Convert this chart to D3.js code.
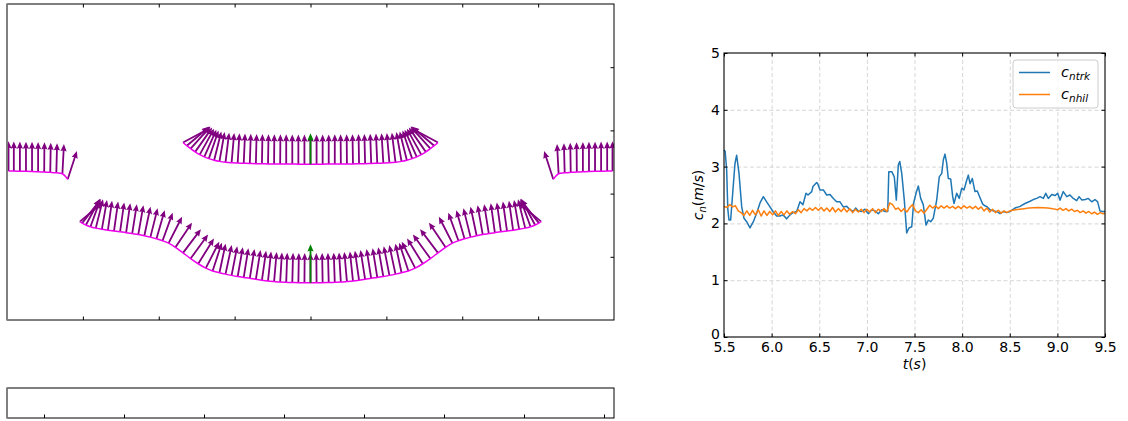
<!DOCTYPE html>
<html>
<head>
<meta charset="utf-8">
<script src="https://cdn.jsdelivr.net/npm/d3@7"></script>
<style>
  body { margin: 0; background: #fff; }
  svg text { font-family: "DejaVu Sans", sans-serif; }
  .tick line { stroke: #000; }
  .grid .tick line { stroke: #cccccc; stroke-dasharray: 4,2.5; stroke-width: 0.8; }
</style>
</head>
<body>
<div id="chart"></div>
<script>
/* CONSTANTS AND GLOBALS */
const width = 1128, height = 421;

/* DATA */
// interface snapshot (left panel), tails of the normal-velocity arrows
const upperX = [2.32, 2.37, 2.42, 2.48, 2.54, 2.60, 2.66, 2.73, 2.80, 2.88, 2.96, 3.04, 3.12, 3.20, 3.28, 3.36, 3.44, 3.52, 3.60, 3.68, 3.76, 3.84, 3.92, 4.00,
  4.08, 4.16, 4.24, 4.32, 4.40, 4.48, 4.56, 4.64, 4.72, 4.80, 4.88, 4.96, 5.04, 5.12, 5.20, 5.27, 5.34, 5.40, 5.46, 5.52, 5.58, 5.63, 5.68];
const upperY = [2.809, 2.758, 2.712, 2.660, 2.617, 2.582, 2.553, 2.528, 2.510, 2.497, 2.489, 2.484, 2.480, 2.477, 2.474, 2.472, 2.470, 2.469, 2.468, 2.468, 2.467, 2.466, 2.465, 2.464,
  2.465, 2.466, 2.467, 2.468, 2.468, 2.469, 2.470, 2.472, 2.474, 2.477, 2.480, 2.484, 2.489, 2.497, 2.510, 2.528, 2.553, 2.582, 2.617, 2.660, 2.712, 2.758, 2.809];
const upperAng = [62, 50, 42, 35, 29, 24, 19, 14, 10, 7, 5, 3.5, 2.5, 2, 1.5, 1, 1, 0.5, 0.5, 0, 0, 0, 0, 0,
  0, 0, 0, 0, -0.5, -0.5, -1, -1, -1.5, -2, -2.5, -3.5, -5, -7, -10, -14, -19, -24, -29, -35, -42, -50, -62];

const lowerX = [0.96, 0.99, 1.04, 1.10, 1.17, 1.25, 1.33, 1.41, 1.49, 1.57, 1.65, 1.73, 1.81, 1.89, 1.97, 2.05, 2.13, 2.22, 2.32, 2.42, 2.52, 2.62, 2.71, 2.80, 2.88, 2.96, 3.04, 3.12, 3.20, 3.28, 3.36, 3.44, 3.52, 3.60, 3.68, 3.76, 3.84, 3.92, 4.00,
  4.08, 4.16, 4.24, 4.32, 4.40, 4.48, 4.56, 4.64, 4.72, 4.80, 4.88, 4.96, 5.04, 5.12, 5.20, 5.29, 5.38, 5.48, 5.58, 5.68, 5.78, 5.87, 5.95, 6.03, 6.11, 6.19, 6.27, 6.35, 6.43, 6.51, 6.59, 6.67, 6.75, 6.83, 6.90, 6.96, 7.01, 7.04];
const lowerY = [1.556, 1.533, 1.503, 1.476, 1.454, 1.435, 1.421, 1.408, 1.395, 1.382, 1.367, 1.352, 1.333, 1.311, 1.286, 1.255, 1.216, 1.151, 1.062, 0.972, 0.890, 0.820, 0.775, 0.748, 0.726, 0.706, 0.688, 0.673, 0.659, 0.643, 0.629, 0.617, 0.608, 0.600, 0.596, 0.593, 0.591, 0.590, 0.590,
  0.590, 0.591, 0.593, 0.596, 0.600, 0.608, 0.617, 0.629, 0.643, 0.659, 0.673, 0.688, 0.706, 0.726, 0.748, 0.775, 0.820, 0.890, 0.972, 1.062, 1.151, 1.216, 1.255, 1.286, 1.311, 1.333, 1.352, 1.367, 1.382, 1.395, 1.408, 1.421, 1.435, 1.454, 1.476, 1.503, 1.533, 1.556];
const lowerAng = [50, 38, 28, 20, 14, 10, 8, 8, 8, 8, 9, 10, 12, 14, 16, 20, 27, 34, 37, 36, 32, 27, 18, 12, 12, 11, 10, 9, 9, 9, 8, 6, 5, 3.5, 2, 1.5, 1, 0.5, 0,
  -0.5, -1, -1.5, -2, -3.5, -5, -6, -8, -9, -9, -9, -10, -11, -12, -12, -18, -27, -32, -36, -37, -34, -27, -20, -16, -14, -12, -10, -9, -8, -8, -8, -8, -10, -14, -20, -28, -38, -50];

const leftEdgeX = [0.02, 0.09, 0.17, 0.25, 0.33, 0.41, 0.49, 0.57, 0.65, 0.73, 0.80];
const leftEdgeY = [2.357, 2.356, 2.354, 2.352, 2.349, 2.346, 2.342, 2.336, 2.328, 2.314, 2.226];
const leftEdgeAng = [0, 0, 0, 0, 0, 0, 0.5, 1, 1.5, 3, 18];

const rightEdgeX = [7.20, 7.27, 7.35, 7.43, 7.51, 7.59, 7.67, 7.75, 7.83, 7.91, 7.98];
const rightEdgeY = [2.226, 2.314, 2.328, 2.336, 2.342, 2.346, 2.349, 2.352, 2.354, 2.356, 2.357];
const rightEdgeAng = [-18, -3, -1.5, -1, -0.5, 0, 0, 0, 0, 0, 0];

const cnFront = 2.2;                 // purple arrows
const trackedX = [4.0, 4.0];         // green arrows (tracked points)
const trackedY = [2.464, 0.590];
const trackedCn = [2.3, 2.85];

// time series (right panel): [t, c_n]
const cNtrk = [
  [5.500, 3.29], [5.512, 3.27], [5.528, 2.94], [5.540, 2.25], [5.552, 2.06], [5.570, 2.06], [5.594, 2.59], [5.615, 3.05],
  [5.633, 3.20], [5.657, 2.89], [5.686, 2.29], [5.710, 2.09], [5.738, 2.03], [5.773, 1.92], [5.808, 2.03], [5.843, 2.18],
  [5.878, 2.36], [5.913, 2.47], [5.948, 2.38], [5.983, 2.29], [6.014, 2.21], [6.053, 2.13], [6.088, 2.13], [6.119, 2.15],
  [6.158, 2.08], [6.193, 2.15], [6.224, 2.19], [6.263, 2.21], [6.298, 2.38], [6.329, 2.33], [6.361, 2.53], [6.382, 2.50],
  [6.421, 2.56], [6.434, 2.65], [6.473, 2.72], [6.484, 2.70], [6.508, 2.59], [6.543, 2.59], [6.578, 2.50], [6.613, 2.51],
  [6.648, 2.44], [6.683, 2.38], [6.718, 2.38], [6.752, 2.29], [6.788, 2.30], [6.823, 2.24], [6.857, 2.21], [6.883, 2.27],
  [6.910, 2.22], [6.946, 2.21], [6.980, 2.25], [7.015, 2.17], [7.051, 2.24], [7.085, 2.22], [7.120, 2.17], [7.156, 2.24],
  [7.190, 2.21], [7.219, 2.21], [7.230, 2.91], [7.261, 2.91], [7.288, 2.82], [7.309, 2.41], [7.330, 3.03], [7.345, 3.09],
  [7.366, 2.88], [7.393, 2.41], [7.418, 1.83], [7.442, 1.92], [7.471, 1.94], [7.490, 2.35], [7.516, 2.53], [7.540, 2.66],
  [7.565, 2.44], [7.592, 2.33], [7.621, 1.97], [7.645, 2.06], [7.670, 2.03], [7.697, 2.09], [7.733, 2.41], [7.760, 2.82],
  [7.786, 2.88], [7.803, 3.12], [7.820, 3.22], [7.838, 3.06], [7.855, 2.79], [7.880, 2.78], [7.901, 2.47], [7.915, 2.35],
  [7.943, 2.53], [7.970, 2.44], [7.996, 2.62], [8.020, 2.59], [8.048, 2.76], [8.065, 2.85], [8.083, 2.70], [8.107, 2.79],
  [8.135, 2.56], [8.159, 2.57], [8.188, 2.45], [8.216, 2.34], [8.240, 2.31], [8.264, 2.29], [8.293, 2.24], [8.327, 2.22],
  [8.363, 2.21], [8.398, 2.17], [8.432, 2.21], [8.468, 2.19], [8.503, 2.21], [8.555, 2.27], [8.608, 2.30], [8.660, 2.35],
  [8.713, 2.39], [8.747, 2.42], [8.783, 2.44], [8.818, 2.47], [8.853, 2.44], [8.878, 2.53], [8.905, 2.44], [8.941, 2.51],
  [8.975, 2.49], [9.003, 2.53], [9.028, 2.41], [9.062, 2.56], [9.098, 2.47], [9.132, 2.50], [9.167, 2.44], [9.203, 2.40],
  [9.228, 2.47], [9.258, 2.41], [9.293, 2.42], [9.325, 2.44], [9.360, 2.38], [9.395, 2.42], [9.423, 2.38], [9.447, 2.22],
  [9.472, 2.21], [9.500, 2.21]
];
const cNhil = [
  [5.50, 2.30], [5.53, 2.28], [5.56, 2.33], [5.59, 2.29], [5.62, 2.31], [5.65, 2.22], [5.68, 2.19], [5.71, 2.14],
  [5.74, 2.22], [5.77, 2.14], [5.80, 2.23], [5.83, 2.15], [5.86, 2.24], [5.89, 2.13], [5.92, 2.22], [5.95, 2.14],
  [5.98, 2.21], [6.01, 2.15], [6.04, 2.22], [6.07, 2.14], [6.10, 2.21], [6.13, 2.15], [6.16, 2.22], [6.19, 2.16],
  [6.22, 2.21], [6.25, 2.17], [6.28, 2.24], [6.31, 2.19], [6.34, 2.26], [6.37, 2.22], [6.40, 2.27], [6.43, 2.23],
  [6.46, 2.28], [6.49, 2.23], [6.52, 2.28], [6.55, 2.22], [6.58, 2.27], [6.61, 2.21], [6.64, 2.28], [6.67, 2.20],
  [6.70, 2.26], [6.73, 2.21], [6.76, 2.27], [6.79, 2.20], [6.82, 2.26], [6.85, 2.19], [6.88, 2.25], [6.91, 2.20],
  [6.94, 2.25], [6.97, 2.19], [7.00, 2.25], [7.03, 2.20], [7.06, 2.26], [7.09, 2.19], [7.12, 2.25], [7.15, 2.21],
  [7.18, 2.26], [7.21, 2.21], [7.24, 2.36], [7.27, 2.33], [7.30, 2.25], [7.33, 2.27], [7.36, 2.21], [7.39, 2.26],
  [7.42, 2.20], [7.45, 2.28], [7.48, 2.33], [7.51, 2.22], [7.54, 2.19], [7.57, 2.24], [7.60, 2.18], [7.63, 2.25],
  [7.66, 2.32], [7.69, 2.27], [7.72, 2.31], [7.75, 2.26], [7.78, 2.31], [7.81, 2.27], [7.84, 2.31], [7.87, 2.27],
  [7.90, 2.30], [7.93, 2.26], [7.96, 2.30], [7.99, 2.26], [8.02, 2.31], [8.05, 2.27], [8.08, 2.30], [8.11, 2.26],
  [8.14, 2.30], [8.17, 2.25], [8.20, 2.29], [8.23, 2.22], [8.26, 2.27], [8.29, 2.20], [8.32, 2.25], [8.35, 2.19],
  [8.38, 2.23], [8.41, 2.18], [8.44, 2.22], [8.47, 2.19], [8.50, 2.22], [8.53, 2.23], [8.56, 2.24], [8.60, 2.25],
  [8.65, 2.26], [8.70, 2.27], [8.75, 2.275], [8.80, 2.28], [8.85, 2.275], [8.90, 2.27], [8.95, 2.26], [9.00, 2.24],
  [9.03, 2.27], [9.06, 2.23], [9.09, 2.26], [9.12, 2.22], [9.15, 2.25], [9.18, 2.21], [9.21, 2.23], [9.24, 2.19],
  [9.27, 2.22], [9.30, 2.18], [9.33, 2.21], [9.36, 2.17], [9.39, 2.20], [9.42, 2.16], [9.45, 2.19], [9.48, 2.17],
  [9.50, 2.18]
];

const xTicksChart = [5.5, 6.0, 6.5, 7.0, 7.5, 8.0, 8.5, 9.0, 9.5];
const yTicksChart = [0, 1, 2, 3, 4, 5];
const legendLabels = [["c", "ntrk"], ["c", "nhil"]];
const seriesColors = ["#1f77b4", "#ff7f0e"];

/* SVG */
const svg = d3.select("#chart").append("svg")
  .attr("width", width)
  .attr("height", height);

/* LEFT PANEL : interface with arrows */
const left = { x0: 7, x1: 614, y0: 4, y1: 320 };
const xL = d3.scaleLinear().domain([0, 8]).range([left.x0, left.x1]);
const yL = d3.scaleLinear().domain([0, 5]).range([left.y1, left.y0]);
const arrowLen = d3.scaleLinear().domain([0, 1]).range([0, 13.5]);

svg.append("clipPath").attr("id", "clipL")
  .append("rect")
  .attr("x", left.x0).attr("y", left.y0)
  .attr("width", left.x1 - left.x0).attr("height", left.y1 - left.y0);

const gL = svg.append("g").attr("clip-path", "url(#clipL)");

function arrowPath(len) {
  const w = 1.8, hw = 6.2, hl = 7.2, hal = 6.5;
  const a = Math.max(len - hal, 0), b = Math.max(len - hl, 0);
  return `M0,${-w / 2}L${a},${-w / 2}L${b},${-hw / 2}L${len},0L${b},${hw / 2}L${a},${w / 2}L0,${w / 2}Z`;
}

const curveLine = d3.line()
  .x(d => xL(d.x))
  .y(d => yL(d.y))
  .curve(d3.curveCatmullRom);

const fronts = [
  { x: upperX, y: upperY, ang: upperAng },
  { x: lowerX, y: lowerY, ang: lowerAng },
  { x: leftEdgeX, y: leftEdgeY, ang: leftEdgeAng },
  { x: rightEdgeX, y: rightEdgeY, ang: rightEdgeAng }
];

fronts.forEach(f => {
  const pts = f.x.map((x, i) => ({ x, y: f.y[i], ang: f.ang[i] }));
  gL.append("g")
    .selectAll("path")
    .data(pts)
    .join("path")
    .attr("d", arrowPath(arrowLen(cnFront)))
    .attr("transform", d => `translate(${xL(d.x)},${yL(d.y)}) rotate(${d.ang - 90})`)
    .attr("fill", "#800080");
  gL.append("path")
    .datum(pts)
    .attr("d", curveLine)
    .attr("fill", "none")
    .attr("stroke", "#ee00ee")
    .attr("stroke-width", 1.5);
});

gL.append("g")
  .selectAll("path")
  .data(trackedX.map((x, i) => ({ x, y: trackedY[i], cn: trackedCn[i] })))
  .join("path")
  .attr("d", d => arrowPath(arrowLen(d.cn)))
  .attr("transform", d => `translate(${xL(d.x)},${yL(d.y)}) rotate(-90)`)
  .attr("fill", "#008000");

// ticks of left panel (inward, no labels)
svg.append("g").attr("transform", `translate(0,${left.y0})`)
  .call(d3.axisTop(xL).tickValues([1, 2, 3, 4, 5, 6, 7]).tickSize(-3.5).tickFormat(""))
  .call(g => g.select(".domain").remove());
svg.append("g").attr("transform", `translate(0,${left.y1})`)
  .call(d3.axisBottom(xL).tickValues([1, 2, 3, 4, 5, 6, 7]).tickSize(-3.5).tickFormat(""))
  .call(g => g.select(".domain").remove());
svg.append("g").attr("transform", `translate(${left.x1},0)`)
  .call(d3.axisRight(yL).tickValues([1, 2, 3, 4]).tickSize(-3.5).tickFormat(""))
  .call(g => g.select(".domain").remove());

svg.append("rect")
  .attr("x", left.x0).attr("y", left.y0)
  .attr("width", left.x1 - left.x0).attr("height", left.y1 - left.y0)
  .attr("fill", "none").attr("stroke", "#000").attr("stroke-width", 1);
svg.append("line")
  .attr("x1", left.x0).attr("x2", left.x0).attr("y1", left.y0).attr("y2", left.y1)
  .attr("stroke", "#808080").attr("stroke-width", 1.8);

/* BOTTOM-LEFT STRIP (empty axes) */
const strip = { x0: 7, x1: 614, y0: 388, y1: 418 };
const xB = d3.scaleLinear().domain([-0.4625, 7.125]).range([strip.x0, strip.x1]);
svg.append("g").attr("transform", `translate(0,${strip.y1})`)
  .call(d3.axisBottom(xB).tickValues([0, 1, 2, 3, 4, 5, 6, 7]).tickSize(-3.5).tickFormat(""))
  .call(g => g.select(".domain").remove());
svg.append("rect")
  .attr("x", strip.x0).attr("y", strip.y0)
  .attr("width", strip.x1 - strip.x0).attr("height", strip.y1 - strip.y0)
  .attr("fill", "none").attr("stroke", "#000").attr("stroke-width", 1);
svg.append("line")
  .attr("x1", strip.x0).attr("x2", strip.x0).attr("y1", strip.y0).attr("y2", strip.y1)
  .attr("stroke", "#808080").attr("stroke-width", 1.8);

/* RIGHT PANEL : c_n time series */
const m = { x0: 724, x1: 1105, y0: 53, y1: 337 };
const xScale = d3.scaleLinear().domain([5.5, 9.5]).range([m.x0, m.x1]);
const yScale = d3.scaleLinear().domain([0, 5]).range([m.y1, m.y0]);

// grid
svg.append("g").attr("class", "grid").attr("transform", `translate(0,${m.y1})`)
  .call(d3.axisBottom(xScale).tickValues(xTicksChart.slice(1, -1)).tickSize(-(m.y1 - m.y0)).tickFormat(""))
  .call(g => g.select(".domain").remove());
svg.append("g").attr("class", "grid").attr("transform", `translate(${m.x0},0)`)
  .call(d3.axisLeft(yScale).tickValues(yTicksChart.slice(1, -1)).tickSize(-(m.x1 - m.x0)).tickFormat(""))
  .call(g => g.select(".domain").remove());

// series
const line = d3.line()
  .x(d => xScale(d[0]))
  .y(d => yScale(d[1]));

[cNtrk, cNhil].forEach((s, i) => {
  svg.append("path")
    .datum(s)
    .attr("d", line)
    .attr("fill", "none")
    .attr("stroke", seriesColors[i])
    .attr("stroke-width", 1.5)
    .attr("stroke-linejoin", "round");
});

// axes with inward ticks
svg.append("g").attr("transform", `translate(0,${m.y1})`)
  .call(d3.axisBottom(xScale).tickValues(xTicksChart).tickSize(-3.5).tickPadding(5).tickFormat(d3.format(".1f")))
  .call(g => g.select(".domain").remove())
  .call(g => g.selectAll("text").attr("font-size", 14).attr("fill", "#000").attr("font-family", "DejaVu Sans"));
svg.append("g").attr("transform", `translate(${m.x0},0)`)
  .call(d3.axisLeft(yScale).tickValues(yTicksChart).tickSize(-3.5).tickPadding(4).tickFormat(d3.format("d")))
  .call(g => g.select(".domain").remove())
  .call(g => g.selectAll("text").attr("font-size", 14).attr("fill", "#000").attr("font-family", "DejaVu Sans"))
  .call(g => g.selectAll("text").filter(d => d === 0).attr("dy", "0.1em"));
svg.append("g").attr("transform", `translate(0,${m.y0})`)
  .call(d3.axisTop(xScale).tickValues(xTicksChart).tickSize(-3.5).tickFormat(""))
  .call(g => g.select(".domain").remove());
svg.append("g").attr("transform", `translate(${m.x1},0)`)
  .call(d3.axisRight(yScale).tickValues(yTicksChart).tickSize(-3.5).tickFormat(""))
  .call(g => g.select(".domain").remove());

svg.append("rect")
  .attr("x", m.x0).attr("y", m.y0)
  .attr("width", m.x1 - m.x0).attr("height", m.y1 - m.y0)
  .attr("fill", "none").attr("stroke", "#000").attr("stroke-width", 1.1);

// axis labels
const xLab = svg.append("text")
  .attr("x", (m.x0 + m.x1) / 2).attr("y", 369)
  .attr("text-anchor", "middle").attr("font-size", 14);
xLab.append("tspan").attr("font-style", "italic").text("t");
xLab.append("tspan").text("(");
xLab.append("tspan").attr("font-style", "italic").text("s");
xLab.append("tspan").text(")");

const yLab = svg.append("text")
  .attr("transform", `translate(703,${(m.y0 + m.y1) / 2}) rotate(-90)`)
  .attr("text-anchor", "middle").attr("font-size", 14);
yLab.append("tspan").attr("font-style", "italic").text("c");
yLab.append("tspan").attr("font-style", "italic").attr("font-size", 10).attr("dy", 3).text("n");
yLab.append("tspan").attr("dy", -3).text("(");
yLab.append("tspan").attr("font-style", "italic").text("m");
yLab.append("tspan").text("/");
yLab.append("tspan").attr("font-style", "italic").text("s");
yLab.append("tspan").text(")");

// legend
const legend = svg.append("g");
legend.append("rect")
  .attr("x", 1013).attr("y", 60).attr("width", 85).attr("height", 48).attr("rx", 3)
  .attr("fill", "#fff").attr("fill-opacity", 0.8)
  .attr("stroke", "#cccccc").attr("stroke-width", 1);
legendLabels.forEach((lab, i) => {
  const yy = 72.5 + i * 22;
  legend.append("line")
    .attr("x1", 1019).attr("x2", 1050).attr("y1", yy).attr("y2", yy)
    .attr("stroke", seriesColors[i]).attr("stroke-width", 1.5);
  const t = legend.append("text").attr("x", 1061).attr("y", yy + 4.5).attr("font-size", 14.5);
  t.append("tspan").attr("font-style", "italic").text(lab[0]);
  t.append("tspan").attr("font-style", "italic").attr("font-size", 10.5).attr("dy", 3).text(lab[1]);
});
</script>
</body>
</html>
